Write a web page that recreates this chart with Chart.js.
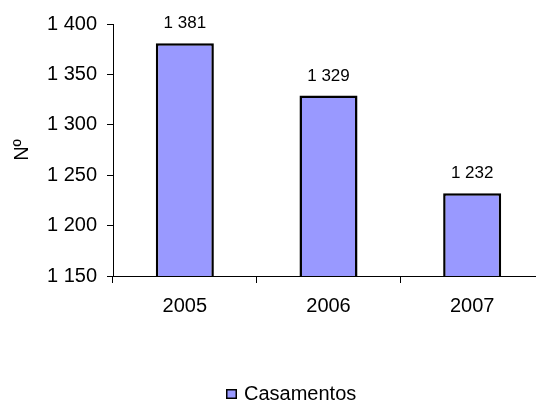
<!DOCTYPE html>
<html>
<head>
<meta charset="utf-8">
<script src="https://cdn.jsdelivr.net/npm/chart.js@4.4.1/dist/chart.umd.min.js"></script>
<style>
  html, body { margin: 0; padding: 0; background: #ffffff; overflow: hidden; }
  #wrap { position: relative; width: 545px; height: 405px; }
</style>
</head>
<body>
<div id="wrap"><canvas id="chart"></canvas></div>
<script>
// Casamentos por ano
const categories = ['2005', '2006', '2007'];
const casamentos = [1381, 1329, 1232];
const yTicks = [1150, 1200, 1250, 1300, 1350, 1400];
const seriesName = 'Casamentos';
const yTitle = 'Nº';

const FONT = '"Liberation Sans", Arial, sans-serif';

// Thousands separated by a space, e.g. 1 381
function fmt(v) {
  return String(v).replace(/\B(?=(\d{3})+(?!\d))/g, ' ');
}

// Writes each bar's value just above it
const valueLabels = {
  id: 'valueLabels',
  afterDatasetsDraw(chart) {
    const ctx = chart.ctx;
    const meta = chart.getDatasetMeta(0);
    ctx.save();
    ctx.font = '17px ' + FONT;
    ctx.fillStyle = '#000';
    ctx.textAlign = 'center';
    ctx.textBaseline = 'alphabetic';
    meta.data.forEach((bar, i) => {
      ctx.fillText(fmt(chart.data.datasets[0].data[i]), bar.x, bar.y - 15);
    });
    ctx.restore();
  }
};

// Single-entry legend under the plot: square swatch plus series name
const seriesLegend = {
  id: 'seriesLegend',
  afterDraw(chart) {
    const ctx = chart.ctx;
    const ds = chart.data.datasets[0];
    const x = 226, y = 389, s = 10;
    ctx.save();
    ctx.fillStyle = ds.backgroundColor;
    ctx.fillRect(x, y, s + 1, s);
    ctx.strokeStyle = '#000';
    ctx.lineWidth = 1.5;
    ctx.strokeRect(x + 0.75, y + 0.75, s - 0.5, s - 1.5);
    ctx.font = '20px ' + FONT;
    ctx.fillStyle = '#000';
    ctx.textAlign = 'left';
    ctx.textBaseline = 'alphabetic';
    ctx.fillText(ds.label, 244, 400);
    ctx.restore();
  }
};

new Chart(document.getElementById('chart'), {
  type: 'bar',
  data: {
    labels: categories,
    datasets: [{
      label: seriesName,
      data: casamentos,
      backgroundColor: '#9999FF',
      borderColor: '#000000',
      borderWidth: 2.5,
      borderSkipped: 'start',
      barPercentage: 0.404,
      categoryPercentage: 1.0
    }]
  },
  options: {
    responsive: true,
    maintainAspectRatio: false,
    animation: false,
    devicePixelRatio: 1,
    layout: { padding: { left: 0, right: 1, top: 24, bottom: 0 } },
    plugins: {
      legend: { display: false },
      tooltip: { enabled: false }
    },
    scales: {
      x: {
        offset: true,
        grid: {
          offset: true,
          drawOnChartArea: false,
          drawTicks: true,
          tickLength: 7,
          tickColor: '#000',
          tickWidth: 1
        },
        border: { display: true, color: '#000', width: 1 },
        ticks: {
          font: { family: FONT, size: 20 },
          color: '#000',
          padding: 11,
          maxRotation: 0
        },
        afterFit(scale) { scale.height = 129; }
      },
      y: {
        min: 1150,
        max: 1400,
        afterBuildTicks(scale) {
          scale.ticks = yTicks.map(v => ({ value: v }));
        },
        grid: {
          drawOnChartArea: false,
          drawTicks: true,
          tickLength: 6,
          tickColor: '#000',
          tickWidth: 1
        },
        border: { display: true, color: '#000', width: 1 },
        ticks: {
          font: { family: FONT, size: 20 },
          color: '#000',
          padding: 10,
          callback: v => fmt(v)
        },
        title: {
          display: true,
          text: yTitle,
          font: { family: FONT, size: 20 },
          color: '#000',
          padding: { top: 10, bottom: 0 }
        },
        afterFit(scale) { scale.width = 113; }
      }
    }
  },
  plugins: [valueLabels, seriesLegend]
});
</script>
</body>
</html>
